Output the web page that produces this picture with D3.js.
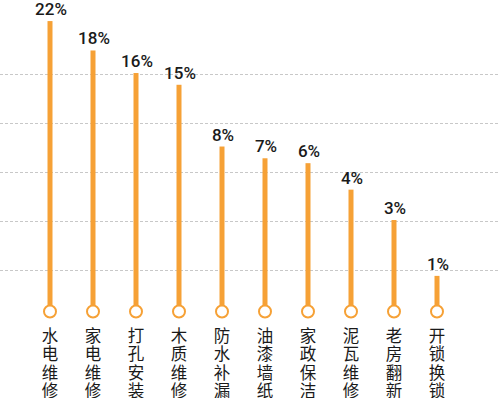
<!DOCTYPE html>
<html>
<head>
<meta charset="utf-8">
<script src="https://cdn.jsdelivr.net/npm/d3@7"></script>
<style>
  body { margin: 0; background: #fff; }
  svg { display: block; }
</style>
</head>
<body>
<div id="chart"></div>
<script>
// categories, bar heights (axis units) and the percent labels shown on top
var categories = ["水电维修", "家电维修", "打孔安装", "木质维修", "防水补漏", "油漆墙纸", "家政保洁", "泥瓦维修", "老房翻新", "开锁换锁"];
var values = [304, 274, 251, 239, 176, 164, 159, 132, 101, 44];
var percentLabels = ["22%", "18%", "16%", "15%", "8%", "7%", "6%", "4%", "3%", "1%"];
var gridTicks = [50, 100, 150, 200, 250];

var width = 500, height = 398;
var barColor = "#f6a136";

var svg = d3.select("#chart")
    .append("svg")
    .attr("width", width)
    .attr("height", height);

var x = d3.scaleBand()
    .domain(categories)
    .range([28.5, 458.5]);

var y = d3.scaleLinear()
    .domain([0, 300])
    .range([319, 25]);

var baseY = 311.5;

// dashed grid
svg.append("g")
    .selectAll("line")
    .data(gridTicks)
    .enter().append("line")
    .attr("x1", 0)
    .attr("x2", width)
    .attr("y1", function(d) { return Math.round(y(d)) + 0.5; })
    .attr("y2", function(d) { return Math.round(y(d)) + 0.5; })
    .style("stroke", "#c8c8c8")
    .style("stroke-width", 1)
    .style("stroke-dasharray", "3,2");

var g = svg.append("g");

var items = categories.map(function(c, i) {
    return {cat: c, value: values[i], label: percentLabels[i]};
});

function cx(d) { return x(d.cat) + x.bandwidth() / 2; }

g.selectAll("rect")
    .data(items)
    .enter().append("rect")
    .attr("x", function(d) { return cx(d) - 2.5; })
    .attr("y", function(d) { return y(d.value); })
    .attr("width", 5)
    .attr("height", function(d) { return baseY - y(d.value); })
    .style("fill", barColor);

g.selectAll("circle")
    .data(items)
    .enter().append("circle")
    .attr("cx", cx)
    .attr("cy", baseY)
    .attr("r", 6)
    .style("fill", "#fff")
    .style("stroke", barColor)
    .style("stroke-width", 2);

g.selectAll(".pct")
    .data(items)
    .enter().append("text")
    .attr("class", "pct")
    .attr("x", function(d) { return cx(d) + 1; })
    .attr("y", function(d) { return y(d.value) - 6; })
    .attr("text-anchor", "middle")
    .style("font-family", "Roboto, 'DejaVu Sans', sans-serif")
    .style("font-size", "17px")
    .style("font-weight", 500)
    .style("fill", "#1a1a1a")
    .text(function(d) { return d.label; });

// vertical category labels, one character per line
var catText = g.selectAll(".cat")
    .data(items)
    .enter().append("text")
    .attr("class", "cat")
    .attr("text-anchor", "middle")
    .style("font-family", "'Noto Sans CJK SC', sans-serif")
    .style("font-size", "16.5px")
    .style("fill", "#1a1a1a");

catText.selectAll("tspan")
    .data(function(d) {
        return d.cat.split("").map(function(ch) { return {ch: ch, x: cx(d)}; });
    })
    .enter().append("tspan")
    .attr("x", function(d) { return d.x; })
    .attr("y", function(d, i) { return 342 + i * 18.3; })
    .text(function(d) { return d.ch; });
</script>
</body>
</html>
